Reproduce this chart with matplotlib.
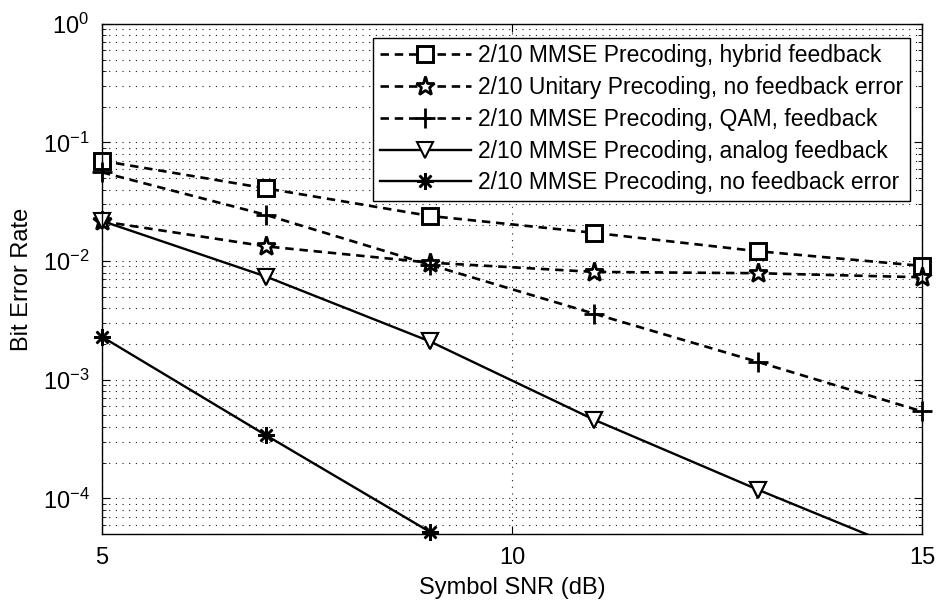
import numpy as np
import matplotlib
matplotlib.use('Agg')
import matplotlib.pyplot as plt
from matplotlib.ticker import LogLocator, FixedLocator, NullFormatter

plt.rcParams['font.family'] = ['Liberation Sans', 'DejaVu Sans']
plt.rcParams['axes.unicode_minus'] = False
plt.rcParams['mathtext.fontset'] = 'custom'
plt.rcParams['mathtext.rm'] = 'Liberation Sans'

# Daten lest av bildet
snr = [5, 7, 9, 11, 13, 15]
snr_ast = [5, 7, 9]

ber_hybrid = [0.070, 0.041, 0.024, 0.0173, 0.0121, 0.0091]
ber_unitary = [0.0216, 0.0133, 0.0097, 0.0081, 0.0079, 0.0073]
ber_qam = [0.056, 0.0245, 0.0093, 0.0036, 0.00141, 0.00054]
ber_analog = [0.0218, 0.0074, 0.0021, 0.00046, 0.000118, 0.000032]
ber_perfect = [0.0023, 0.00034, 0.000052]

labels = ['2/10 MMSE Precoding, hybrid feedback',
          '2/10 Unitary Precoding, no feedback error',
          '2/10 MMSE Precoding, QAM, feedback',
          '2/10 MMSE Precoding, analog feedback',
          '2/10 MMSE Precoding, no feedback error']

fig = plt.figure(figsize=(9.4, 6.11), dpi=100)
ax = fig.add_axes([0.1085, 0.126, 0.8725, 0.835])

lw_d = 1.9
lw_s = 1.7
dash = (3.2, 2.2)
ax.semilogy(snr, ber_hybrid, 'k--', dashes=dash, marker='s', ms=12, mfc='white', mew=2.1, lw=lw_d,
            label=labels[0], clip_on=False)
ax.semilogy(snr, ber_unitary, 'k--', dashes=dash, marker='*', ms=14, mfc='white', mew=2.0, lw=lw_d,
            label=labels[1], clip_on=False)
ax.semilogy(snr, ber_qam, 'k--', dashes=dash, marker='+', ms=14, mew=2.0, lw=lw_d,
            label=labels[2], clip_on=False)
ax.semilogy(snr, ber_analog, 'k-', marker='v', ms=12, mfc='white', mew=1.5, lw=lw_s, label=labels[3])
# markørene skal ikke klippes ved kanten, men linja skal
ax.semilogy(snr, ber_analog, ls='none', marker='v', ms=12, mfc='white', mec='k', mew=1.5,
            markevery=[0, 1, 2, 3, 4], clip_on=False)
ax.semilogy(snr_ast, ber_perfect, 'k-', marker=(8, 2, 0), ms=12, mew=1.8, lw=lw_s,
            label=labels[4], clip_on=False)

ax.set_xlim(5, 15)
ax.set_ylim(5e-5, 1)
ax.xaxis.set_major_locator(FixedLocator([5, 10, 15]))
ax.yaxis.set_major_locator(LogLocator(base=10, numticks=10))
ax.yaxis.set_minor_locator(LogLocator(base=10, subs=np.arange(2, 10), numticks=20))
ax.yaxis.set_minor_formatter(NullFormatter())

grid_style = dict(linestyle=(0, (1, 5)), color='0.1', linewidth=0.8)
ax.grid(True, which='major', **grid_style)
ax.grid(True, which='minor', axis='y', **grid_style)
ax.set_axisbelow(True)

ax.tick_params(which='both', direction='in', top=True, right=True, labelsize=17)
ax.tick_params(which='major', length=6, pad=9)
ax.tick_params(which='minor', length=3)
for s in ax.spines.values():
    s.set_linewidth(1.0)

ax.set_xlabel('Symbol SNR (dB)', fontsize=17, labelpad=6)
ax.set_ylabel('Bit Error Rate', fontsize=17)
ax.yaxis.set_label_coords(-0.084, 0.5)

leg = ax.legend(loc='upper right', fontsize=16.5, frameon=True, fancybox=False,
                edgecolor='black', framealpha=1, handlelength=4.0, borderpad=0.3,
                labelspacing=0.38, handletextpad=0.3, borderaxespad=0,
                bbox_to_anchor=(0.9855, 0.973))
leg.get_frame().set_linewidth(1.0)

fig.savefig('out.png', dpi=100)
